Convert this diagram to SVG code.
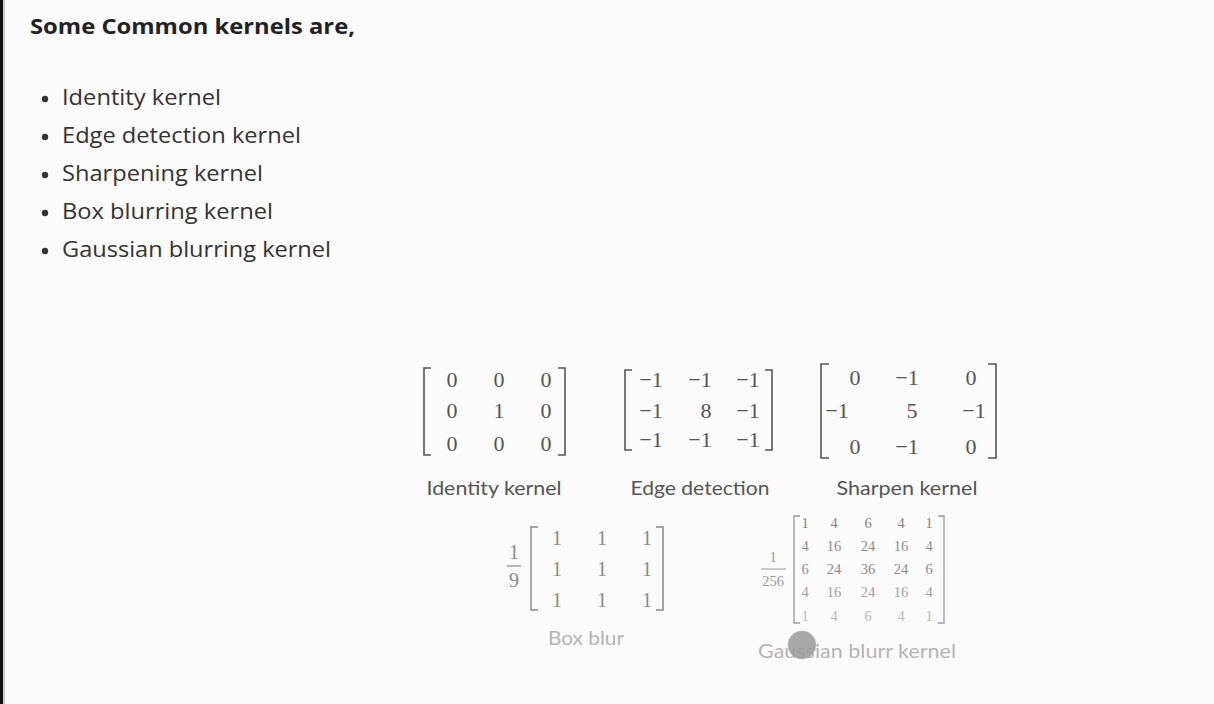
<svg xmlns="http://www.w3.org/2000/svg" width="1214" height="704" viewBox="0 0 1214 704">
<defs>
<style>
.bg{fill:#fbfbfb}
.title{font-family:"Open Sans","Noto Sans",sans-serif;font-weight:700;font-size:21px;fill:#222}
.item{font-family:"Open Sans","Noto Sans",sans-serif;font-size:21px;fill:#333}
.dot{fill:#333}
.num{font-family:"Liberation Serif","DejaVu Serif",serif;font-size:22px;fill:#555;text-anchor:middle}
.num2{font-family:"Liberation Serif","DejaVu Serif",serif;font-size:20px;fill:#8a8a8a;text-anchor:middle}
.num3{font-family:"Liberation Serif","DejaVu Serif",serif;font-size:14.5px;text-anchor:middle}
.lbl{font-family:"Lato","Open Sans",sans-serif;font-size:20px;fill:#555;text-anchor:middle}
.lbl2{font-family:"Lato","Open Sans",sans-serif;font-size:20px;fill:#b5b5b5;text-anchor:middle}
.br{fill:none;stroke:#555;stroke-width:1.6}
.br2{fill:none;stroke:#8a8a8a;stroke-width:1.5}
.br3{fill:none;stroke:#999;stroke-width:1.3}
</style>
</defs>
<rect class="bg" x="0" y="0" width="1214" height="704"/>
<rect x="0" y="0" width="3" height="704" fill="#111"/>
<rect x="3" y="0" width="2" height="704" fill="#ccc"/>

<g id="title">
<text class="title" x="30" y="34" textLength="325" lengthAdjust="spacingAndGlyphs">Some Common kernels are,</text>
</g>

<g id="bullets">
<circle class="dot" cx="45" cy="99" r="3.2"/>
<text class="item" x="62" y="105" textLength="159" lengthAdjust="spacingAndGlyphs">Identity kernel</text>
<circle class="dot" cx="45" cy="137" r="3.2"/>
<text class="item" x="62" y="143" textLength="239" lengthAdjust="spacingAndGlyphs">Edge detection kernel</text>
<circle class="dot" cx="45" cy="175" r="3.2"/>
<text class="item" x="62" y="181" textLength="201" lengthAdjust="spacingAndGlyphs">Sharpening kernel</text>
<circle class="dot" cx="45" cy="213" r="3.2"/>
<text class="item" x="62" y="219" textLength="211" lengthAdjust="spacingAndGlyphs">Box blurring kernel</text>
<circle class="dot" cx="45" cy="251" r="3.2"/>
<text class="item" x="62" y="257" textLength="269" lengthAdjust="spacingAndGlyphs">Gaussian blurring kernel</text>
</g>

<g id="identity">
<path class="br" d="M431,368 H424 V455 H431"/>
<path class="br" d="M558,368 H565 V455 H558"/>
<text class="num" x="452" y="387">0</text><text class="num" x="499" y="387">0</text><text class="num" x="546" y="387">0</text>
<text class="num" x="452" y="418">0</text><text class="num" x="499" y="418">1</text><text class="num" x="546" y="418">0</text>
<text class="num" x="452" y="451">0</text><text class="num" x="499" y="451">0</text><text class="num" x="546" y="451">0</text>
<text class="lbl" x="494" y="495" textLength="135" lengthAdjust="spacingAndGlyphs">Identity kernel</text>
</g>

<g id="edge">
<path class="br" d="M632,370 H625 V450 H632"/>
<path class="br" d="M765,370 H772 V450 H765"/>
<text class="num" x="651" y="387">−1</text><text class="num" x="700" y="387">−1</text><text class="num" x="748" y="387">−1</text>
<text class="num" x="651" y="418">−1</text><text class="num" x="706" y="418">8</text><text class="num" x="748" y="418">−1</text>
<text class="num" x="651" y="447">−1</text><text class="num" x="700" y="447">−1</text><text class="num" x="748" y="447">−1</text>
<text class="lbl" x="700" y="495" textLength="139" lengthAdjust="spacingAndGlyphs">Edge detection</text>
</g>

<g id="sharpen">
<path class="br" d="M829,364 H821 V458 H829"/>
<path class="br" d="M988,364 H996 V458 H988"/>
<text class="num" x="855" y="385">0</text><text class="num" x="907" y="385">−1</text><text class="num" x="971" y="385">0</text>
<text class="num" x="837" y="418">−1</text><text class="num" x="912" y="418">5</text><text class="num" x="974" y="418">−1</text>
<text class="num" x="855" y="454">0</text><text class="num" x="907" y="454">−1</text><text class="num" x="971" y="454">0</text>
<text class="lbl" x="907" y="495" textLength="141" lengthAdjust="spacingAndGlyphs">Sharpen kernel</text>
</g>

<g id="boxblur">
<text class="num2" x="514" y="559">1</text>
<line x1="507" y1="566" x2="521" y2="566" stroke="#8a8a8a" stroke-width="1.2"/>
<text class="num2" x="514" y="587">9</text>
<path class="br2" d="M538,527 H531 V610 H538"/>
<path class="br2" d="M656,527 H663 V610 H656"/>
<text class="num2" x="557" y="545">1</text><text class="num2" x="602" y="545">1</text><text class="num2" x="647" y="545">1</text>
<text class="num2" x="557" y="576">1</text><text class="num2" x="602" y="576">1</text><text class="num2" x="647" y="576">1</text>
<text class="num2" x="557" y="607">1</text><text class="num2" x="602" y="607">1</text><text class="num2" x="647" y="607">1</text>
<text class="lbl2" x="586" y="645" textLength="76" lengthAdjust="spacingAndGlyphs">Box blur</text>
</g>

<g id="gaussian">
<text class="num3" x="773" y="562" fill="#999">1</text>
<line x1="761" y1="569" x2="786" y2="569" stroke="#999" stroke-width="1"/>
<text class="num3" x="773" y="586" fill="#999">256</text>
<path class="br3" d="M800,516 H794 V623 H800"/>
<path class="br3" d="M938,516 H944 V623 H938"/>
<g fill="#808080">
<text class="num3" x="805" y="528">1</text><text class="num3" x="834" y="528">4</text><text class="num3" x="868" y="528">6</text><text class="num3" x="901" y="528">4</text><text class="num3" x="929" y="528">1</text>
</g>
<g fill="#8c8c8c">
<text class="num3" x="805" y="551">4</text><text class="num3" x="834" y="551">16</text><text class="num3" x="868" y="551">24</text><text class="num3" x="901" y="551">16</text><text class="num3" x="929" y="551">4</text>
</g>
<g fill="#8c8c8c">
<text class="num3" x="805" y="574">6</text><text class="num3" x="834" y="574">24</text><text class="num3" x="868" y="574">36</text><text class="num3" x="901" y="574">24</text><text class="num3" x="929" y="574">6</text>
</g>
<g fill="#a0a0a0">
<text class="num3" x="805" y="597">4</text><text class="num3" x="834" y="597">16</text><text class="num3" x="868" y="597">24</text><text class="num3" x="901" y="597">16</text><text class="num3" x="929" y="597">4</text>
</g>
<g fill="#b8b8b8">
<text class="num3" x="805" y="621">1</text><text class="num3" x="834" y="621">4</text><text class="num3" x="868" y="621">6</text><text class="num3" x="901" y="621">4</text><text class="num3" x="929" y="621">1</text>
</g>
<text class="lbl2" x="857" y="658" fill="#c0c0c0" textLength="198" lengthAdjust="spacingAndGlyphs">Gaussian blurr kernel</text>
</g>

<g id="cursor">
<circle cx="802" cy="645" r="14" fill="#9a9a9a" fill-opacity="0.85" stroke="#bbb" stroke-width="1" stroke-dasharray="2 2"/>
</g>
</svg>
